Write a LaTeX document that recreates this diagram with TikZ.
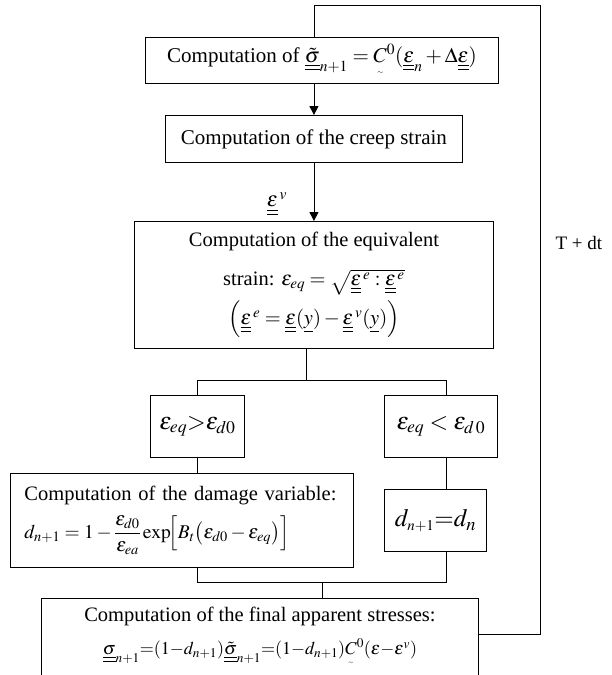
\documentclass[tikz,border=0pt]{standalone}
\usepackage{amsmath}
\usepackage{graphicx}
\usepackage{mathptmx}
\usepackage[no-math]{fontspec}
\setmainfont{Liberation Serif}
\usetikzlibrary{arrows.meta}
\newcommand\dul[1]{\underline{\underline{#1}}}
\newcommand\uC{\underset{\raisebox{1pt}{\scalebox{0.6}{$\scriptscriptstyle\sim$}}}{C}}
\newcommand\fs{\fontsize{21}{24}\selectfont}
\begin{document}
\begin{tikzpicture}[x=1pt,y=-1pt,
  box/.style={draw, line width=0.9pt, inner sep=0pt, anchor=north west, align=center, font=\fs},
  wire/.style={line width=0.9pt},
  arr/.style={line width=0.9pt, -{Triangle[length=9pt,width=9pt]}}]
\useasboundingbox (0,0) rectangle (611,675);
\node[box, minimum width=353pt, minimum height=46pt] (b1) at (145,37)
  {Computation of $\dul{\tilde\sigma}_{n+1}=\uC^{0}(\dul{\varepsilon}_{n}+\Delta\dul{\varepsilon})$};
\node[box, minimum width=297pt, minimum height=47pt] (b2) at (165,115)
  {Computation of the creep strain};
\node[box, minimum width=359pt, minimum height=127pt,
  font={\fontsize{20.5}{39}\selectfont\lineskiplimit=-100pt}] (b3) at (134,221)
  {Computation of the equivalent\\
   strain: $\varepsilon_{eq}=\sqrt{\dul{\varepsilon}^{\,e}:\dul{\varepsilon}^{\,e}}$\\
   $\left(\dul{\varepsilon}^{\,e}=\dul{\varepsilon}(\underline{y})-\dul{\varepsilon}^{\,v}(\underline{y})\right)$};
\node[box, minimum width=94pt, minimum height=62pt, font=\fontsize{24}{28}\selectfont] (cl) at (150,395)
  {$\varepsilon_{eq}{>}\varepsilon_{d0}$};
\node[box, minimum width=113pt, minimum height=62pt, font=\fontsize{24}{28}\selectfont] (cr) at (384,395)
  {$\varepsilon_{eq}<\varepsilon_{d\,0}$};
\node[box, minimum height=94pt, align=left, inner xsep=14pt, text width=315pt,
  font={\fontsize{20.5}{38}\selectfont\lineskiplimit=-100pt}] (dm) at (10,473)
  {Computation of the damage variable:\\
   \scalebox{0.95}{$d_{n+1}=1-\dfrac{\varepsilon_{d0}}{\varepsilon_{ea}}\exp\!\Bigl[B_{t}\bigl(\varepsilon_{d0}-\varepsilon_{eq}\bigr)\Bigr]$}};
\node[box, minimum width=102pt, minimum height=62pt, font=\fontsize{25}{28}\selectfont] (dn) at (384,489)
  {$d_{\scriptscriptstyle n+1}{=}d_{n}$};
\node[box, minimum width=437pt, minimum height=78pt,
  font={\fontsize{20.5}{33}\selectfont\lineskiplimit=-100pt}] (fin) at (41,598)
  {Computation of the final apparent stresses:\\
   \scalebox{0.88}{$\dul{\sigma}_{n+1}{=}(1{-}d_{n+1})\dul{\tilde\sigma}_{n+1}{=}(1{-}d_{n+1})\uC^{0}(\varepsilon{-}\varepsilon^{v})$}};
% connectors
\draw[arr] (b2.north |- b1.south) -- (b2.north);
\draw[arr] (b2.south) -- (b3.north);
\node[font=\fs] (ev) at (277,204) {$\dul{\varepsilon}^{\,v}$};
\coordinate (s0) at (306,348);
\coordinate (sy) at (306,380);
\coordinate (xl) at (197,380);
\coordinate (xr) at (446,380);
\draw[wire] (s0) -- (sy);
\draw[wire] (xl |- cl.north) -- (xl) -- (xr) -- (xr |- cr.north);
\draw[wire] (xl |- cl.south) -- (xl |- dm.north);
\draw[wire] (xr |- cr.south) -- (xr |- dn.north);
\coordinate (m) at (322,582);
\draw[wire] (xl |- dm.south) -- (xl |- m) -- (xr |- m) -- (xr |- dn.south);
\draw[wire] (m) -- (m |- fin.north);
% feedback loop
\coordinate (lt) at (540,5);
\coordinate (lb) at (540,634);
\draw[wire] (fin.east |- lb) -- (lb) -- (lt) -- (b2.north |- lt) -- (b2.north |- b1.north);
\node[font=\fontsize{19}{22}\selectfont, anchor=west] (tdt) at (552,243) {T + dt};
\end{tikzpicture}
\end{document}
